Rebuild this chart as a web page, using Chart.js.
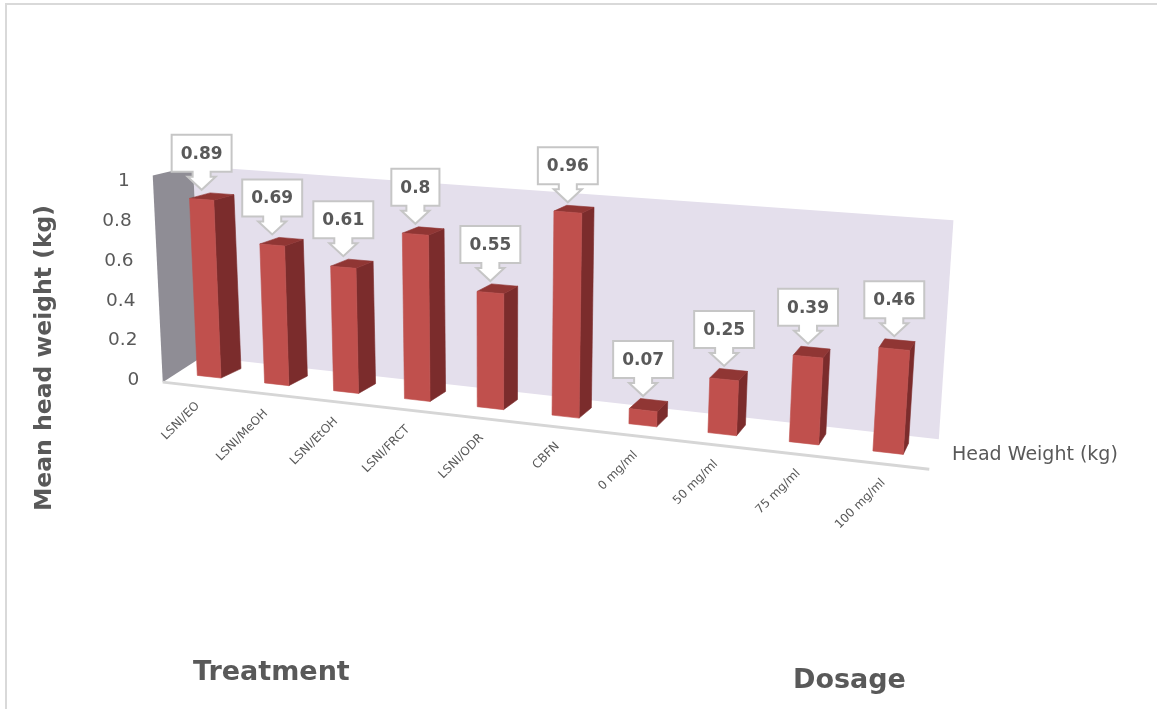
<!DOCTYPE html>
<html>
<head>
<meta charset="utf-8">
<script src="https://cdn.jsdelivr.net/npm/chart.js@4.4.1/dist/chart.umd.min.js"></script>
<style>
  html, body { margin: 0; padding: 0; background: #fff; }
  canvas { display: block; }
</style>
</head>
<body>
<canvas id="chartHead" width="1157" height="709"></canvas>
<script>
const categories = ["LSNI/EO", "LSNI/MeOH", "LSNI/EtOH", "LSNI/FRCT", "LSNI/ODR", "CBFN", "0 mg/ml", "50 mg/ml", "75 mg/ml", "100 mg/ml"];
const headWeight = [0.89, 0.69, 0.61, 0.8, 0.55, 0.96, 0.07, 0.25, 0.39, 0.46];
const yTicks = [0, 0.2, 0.4, 0.6, 0.8, 1];
const seriesName = "Head Weight (kg)";
const yTitle = "Mean head weight (kg)";
const groupTitles = ["Treatment", "Dosage"];

// 3D view: the axis runs towards the viewer on the right, verticals lean
// towards a point far below, depth recedes up and to the right.
const persp = 0.128;
const baseDrop = 84.5;
const leanPt = { x: 491, y: 7040 };
const depthPt = { x: 1151, y: -60 };
const barDepth = 0.0215;
const wallDepth = 0.0355;
const frontDepth = -0.005;
const labelDepth = -0.01;
const wallGap = 10; // flat px between the side wall and the category range

const grey = "#595959";

function project(chart, u, w, depth) {
  const a = chart.chartArea;
  const t = (u - a.left) / (a.right - a.left);
  const den = 1 - persp * t;
  const k = (1 - persp) * t / den;
  const xb = a.left + (a.right - a.left) * k;
  const yb = a.bottom + baseDrop * k;
  const h = (a.bottom - w) / den;
  let x = xb + (xb - leanPt.x) * h / (leanPt.y - yb);
  let y = yb - h;
  if (depth) {
    x += depth * (depthPt.x - x);
    y += depth * (depthPt.y - y);
  }
  return { x, y };
}

function poly(ctx, pts, fill, stroke, lw) {
  ctx.beginPath();
  pts.forEach((p, i) => (i ? ctx.lineTo(p.x, p.y) : ctx.moveTo(p.x, p.y)));
  ctx.closePath();
  if (fill) {
    ctx.fillStyle = fill;
    ctx.fill();
  }
  if (stroke) {
    ctx.strokeStyle = stroke;
    ctx.lineWidth = lw || 1;
    ctx.stroke();
  }
}

function drawCallout(ctx, tip, text) {
  ctx.font = "bold 17px 'DejaVu Sans'";
  const w = ctx.measureText(text).width + 18;
  const h = 37;
  const bottom = tip.y - 18;
  const top = bottom - h;
  const left = tip.x - w / 2;
  const right = tip.x + w / 2;
  const headTop = tip.y - 13;

  ctx.beginPath();
  ctx.moveTo(left, top);
  ctx.lineTo(right, top);
  ctx.lineTo(right, bottom);
  ctx.lineTo(tip.x + 9, bottom);
  ctx.lineTo(tip.x + 9, headTop);
  ctx.lineTo(tip.x + 14, headTop);
  ctx.lineTo(tip.x, tip.y);
  ctx.lineTo(tip.x - 14, headTop);
  ctx.lineTo(tip.x - 9, headTop);
  ctx.lineTo(tip.x - 9, bottom);
  ctx.lineTo(left, bottom);
  ctx.closePath();
  ctx.fillStyle = "#ffffff";
  ctx.fill();
  ctx.strokeStyle = "#c6c6c6";
  ctx.lineWidth = 2;
  ctx.stroke();

  ctx.fillStyle = grey;
  ctx.textAlign = "center";
  ctx.textBaseline = "middle";
  ctx.fillText(text, tip.x, top + h / 2 + 1);
}

const scene3d = {
  id: "scene3d",
  beforeDraw(chart) {
    const ctx = chart.ctx;
    ctx.save();
    ctx.fillStyle = "#ffffff";
    ctx.fillRect(0, 0, chart.width, chart.height);
    ctx.strokeStyle = "#d9d9d9";
    ctx.lineWidth = 2;
    ctx.beginPath();
    ctx.moveTo(chart.width, 4);
    ctx.lineTo(6, 4);
    ctx.lineTo(6, chart.height);
    ctx.stroke();
    ctx.restore();
  },
  beforeDatasetsDraw(chart) {
    const ctx = chart.ctx;
    const a = chart.chartArea;
    const y = chart.scales.y;
    const top = y.getPixelForValue(1);
    const zero = y.getPixelForValue(0);
    const floorW = y.getPixelForValue(-0.04);
    const wallU = a.left - wallGap;
    ctx.save();

    // back wall
    poly(ctx, [
      project(chart, wallU, zero, wallDepth),
      project(chart, a.right, zero, wallDepth),
      project(chart, a.right, top, wallDepth),
      project(chart, wallU, top, wallDepth)
    ], "#e4dfec");

    // side wall
    poly(ctx, [
      project(chart, wallU, floorW, frontDepth),
      project(chart, wallU, top, frontDepth),
      project(chart, wallU, top, wallDepth),
      project(chart, wallU, zero, wallDepth)
    ], "#8f8d95");

    // floor edge
    const f0 = project(chart, wallU, floorW, frontDepth);
    const f1 = project(chart, a.right, floorW, frontDepth);
    ctx.strokeStyle = "#d6d6d6";
    ctx.lineWidth = 3;
    ctx.beginPath();
    ctx.moveTo(f0.x, f0.y);
    ctx.lineTo(f1.x, f1.y);
    ctx.stroke();

    const bars = chart.getDatasetMeta(0).data;
    const tips = [];
    bars.forEach((bar) => {
      const { x, y: yTop, base, width } = bar.getProps(["x", "y", "base", "width"], true);
      const l = x - width / 2;
      const r = x + width / 2;
      const bl = project(chart, l, base);
      const br = project(chart, r, base);
      const tr = project(chart, r, yTop);
      const tl = project(chart, l, yTop);
      const br2 = project(chart, r, base, barDepth);
      const tr2 = project(chart, r, yTop, barDepth);
      const tl2 = project(chart, l, yTop, barDepth);

      poly(ctx, [br, tr, tr2, br2], "#7b2c2c", "#7b2c2c", 0.6);
      poly(ctx, [tl, tr, tr2, tl2], "#903634", "#903634", 0.6);
      poly(ctx, [bl, br, tr, tl], "#c0504d", "#c0504d", 0.6);

      const front = project(chart, x, yTop);
      const back = project(chart, x, yTop, barDepth);
      tips.push({ x: front.x, y: back.y - 4 });
    });

    tips.forEach((tip, i) => drawCallout(ctx, tip, String(headWeight[i])));

    ctx.restore();
    return false;
  },
  afterDraw(chart) {
    const ctx = chart.ctx;
    const a = chart.chartArea;
    const xs = chart.scales.x;
    const ys = chart.scales.y;
    ctx.save();
    ctx.fillStyle = grey;

    // value axis labels along the side wall
    ctx.font = "18.5px 'DejaVu Sans'";
    ctx.textAlign = "right";
    ctx.textBaseline = "middle";
    yTicks.forEach((v) => {
      const p = project(chart, a.left - wallGap, ys.getPixelForValue(v), frontDepth);
      ctx.fillText(String(v), p.x - 23, p.y + 6);
    });

    // category labels
    ctx.font = "12px 'DejaVu Sans'";
    categories.forEach((c, i) => {
      const p = project(chart, xs.getPixelForValue(i), ys.getPixelForValue(0), labelDepth);
      ctx.save();
      ctx.translate(p.x - 2, p.y + 23);
      ctx.rotate(-Math.PI / 4);
      ctx.fillText(c, 0, 0);
      ctx.restore();
    });

    // series (depth) axis label
    ctx.font = "19px 'DejaVu Sans'";
    ctx.textAlign = "left";
    ctx.fillText(seriesName, 952, 455);

    // titles
    ctx.font = "bold 23.5px 'DejaVu Sans'";
    ctx.textAlign = "center";
    ctx.textBaseline = "alphabetic";
    ctx.save();
    ctx.translate(51, 358);
    ctx.rotate(-Math.PI / 2);
    ctx.fillText(yTitle, 0, 0);
    ctx.restore();

    ctx.font = "bold 27px 'DejaVu Sans'";
    ctx.textAlign = "left";
    ctx.fillText(groupTitles[0], 193, 680);
    ctx.fillText(groupTitles[1], 793, 688);
    ctx.restore();
  }
};

new Chart(document.getElementById("chartHead"), {
  type: "bar",
  data: {
    labels: categories,
    datasets: [
      {
        label: seriesName,
        data: headWeight,
        backgroundColor: "#c0504d",
        barPercentage: 0.355,
        categoryPercentage: 1
      }
    ]
  },
  options: {
    responsive: false,
    devicePixelRatio: 1,
    animation: false,
    layout: { padding: { left: 176, right: 226, top: 175, bottom: 336 } },
    plugins: { legend: { display: false }, tooltip: { enabled: false } },
    scales: {
      x: { display: false, offset: true },
      y: { display: false, min: 0, max: 1, ticks: { stepSize: 0.2 } }
    }
  },
  plugins: [scene3d]
});
</script>
</body>
</html>
